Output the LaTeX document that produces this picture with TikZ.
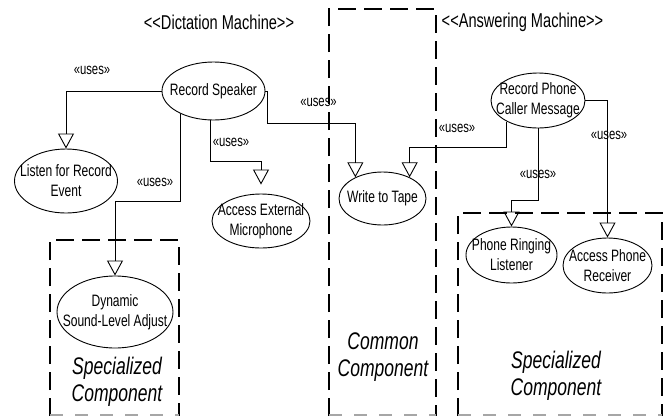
\documentclass[tikz,border=0pt]{standalone}
\usepackage{fontspec}
\setmainfont{Liberation Sans}[FakeStretch=0.73, Ligatures=TeXOff]
\usetikzlibrary{shapes.geometric,arrows.meta}

\newcommand\ucfont{\fontsize{16.5}{20}\selectfont}
\newcommand\usesfont{\fontsize{15.5}{18}\selectfont}
\newcommand\pkgfont{\fontsize{20}{23}\selectfont}
\newcommand\compfont{\fontsize{24}{27}\selectfont\itshape}

\begin{document}
\begin{tikzpicture}[x=1pt,y=-1pt,
  uc/.style={ellipse, draw, line width=0.9pt, inner sep=0pt},
  uctext/.style={font=\ucfont, align=center, inner sep=0pt},
  uses/.style={draw, line width=0.9pt, -{Triangle[open,length=15pt,width=16pt]}},
  stereo/.style={font=\usesfont, inner sep=0pt},
  pkg/.style={font=\pkgfont, inner sep=0pt},
  comp/.style={font=\compfont, align=center, inner sep=0pt},
  region/.style={line width=2.6pt, dash pattern=on 18pt off 8pt},
  regionfoot/.style={line width=2pt, draw=black!35, dash pattern=on 13pt off 12pt}]

\useasboundingbox (0,0) rectangle (667,416);

% component regions
\draw[region] (50,416) -- (50,240) -- (179,240) -- (179,416);
\draw[regionfoot] (50,415) -- (179,415);
\draw[region] (329,416) -- (329,9) -- (436,9) -- (436,416);
\draw[regionfoot] (329,415) -- (436,415);
\draw[region] (458,416) -- (458,213) -- (662,213) -- (662,416);
\draw[regionfoot] (458,415) -- (662,415);

% package titles
\node[pkg] (dm) at (219,22) {<<Dictation Machine>>};
\node[pkg] (am) at (522.5,22) {<<Answering Machine>>};

% use cases
\node[uc, minimum width=103pt, minimum height=58pt,
      label={[uctext]center:Record Speaker}] (rs) at (213.5,91) {};
\node[uc, minimum width=103pt, minimum height=64pt,
      label={[uctext]center:Listen for Record\\Event}] (lre) at (66,181) {};
\node[uc, minimum width=98pt, minimum height=54pt,
      label={[uctext]center:Access External\\Microphone}] (mic) at (261,221) {};
\node[uc, minimum width=87pt, minimum height=53pt,
      label={[uctext]center:Write to Tape}] (wt) at (382.5,198.5) {};
\node[uc, minimum width=94pt, minimum height=55pt,
      label={[uctext]center:Record Phone\\Caller Message}] (rpc) at (538,100.5) {};
\node[uc, minimum width=116pt, minimum height=72pt,
      label={[uctext]center:Dynamic\\Sound-Level Adjust}] (dsl) at (115,312) {};
\node[uc, minimum width=91pt, minimum height=56pt,
      label={[uctext]center:Phone Ringing\\Listener}] (prl) at (511.5,255) {};
\node[uc, minimum width=89pt, minimum height=55pt,
      label={[uctext]center:Access Phone\\Receiver}] (apr) at (607.5,265.5) {};

% uses relations
\draw[uses] (rs.west) -| (lre.north);
\draw[uses] (rs.215) -- ++(0,88) -| (dsl.north);
\draw[uses] (rs.265) -- ++(0,41) -| ([yshift=9pt]mic.north);
\draw[uses] (rs.east) -| ++(2,32) -| (wt.142);
\draw[uses] (rpc.214) -- ++(0,26) -| (wt.38);
\draw[uses] (rpc.south) -- ++(0,72) -| (prl.north);
\draw[uses] (rpc.east) -| (apr.north);

% stereotype labels
\node[stereo] (u1) at (92,70) {«uses»};
\node[stereo] (u2) at (155,182) {«uses»};
\node[stereo] (u3) at (231,142) {«uses»};
\node[stereo] (u4) at (318.5,102) {«uses»};
\node[stereo] (u5) at (457,128) {«uses»};
\node[stereo] (u6) at (538,174) {«uses»};
\node[stereo] (u7) at (609,135) {«uses»};

% region captions
\node[comp] (sc1) at (117,382) {Specialized\\Component};
\node[comp] (cc) at (383,357) {Common\\Component};
\node[comp] (sc2) at (556,376) {Specialized\\Component};
\end{tikzpicture}
\end{document}
